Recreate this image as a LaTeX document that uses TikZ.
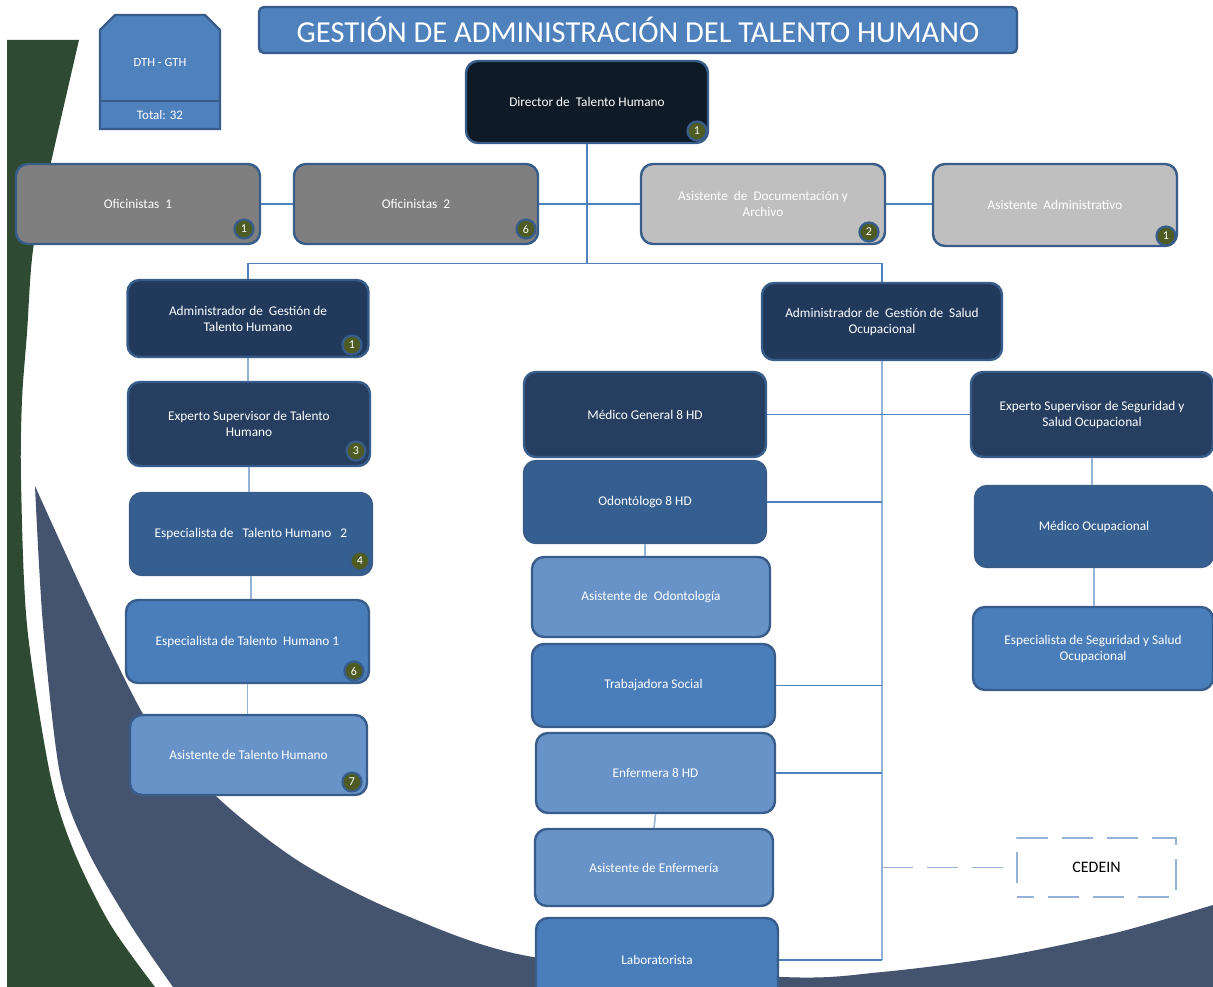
\documentclass[tikz,border=0pt]{standalone}
\usepackage{fontspec}
\setmainfont{Carlito}
\usetikzlibrary{calc}

\definecolor{boxline}{HTML}{385D8A}
\definecolor{titlefill}{HTML}{4F81BD}
\definecolor{dirfill}{HTML}{0F1A27}
\definecolor{grayfill}{HTML}{7F7F7F}
\definecolor{palegrayfill}{HTML}{BFBFBF}
\definecolor{navyA}{HTML}{213A5C}
\definecolor{navyB}{HTML}{263F60}
\definecolor{midBlue}{HTML}{365F91}
\definecolor{stdBlue}{HTML}{4A7EBB}
\definecolor{softBlue}{HTML}{6793C8}
\definecolor{badgefill}{HTML}{4E5B23}
\definecolor{linkblue}{HTML}{4F81BD}
\definecolor{linksoft}{HTML}{95B3D7}
\definecolor{leafgreen}{HTML}{2E4A32}
\definecolor{swoosh}{HTML}{44546F}

\begin{document}
\begin{tikzpicture}[x=1pt,y=-1pt,
  box/.style={draw=boxline, line width=2.4pt, rounded corners=12pt, text=white,
    font=\fontsize{13.3}{16}\selectfont, align=center, inner sep=0pt},
  badge/.style={circle, draw=boxline, line width=2.2pt, fill=badgefill, text=white,
    minimum size=19pt, inner sep=0pt, font=\fontsize{12}{12}\selectfont},
  link/.style={draw=linkblue, line width=1.1pt},
  softlink/.style={draw=linksoft, line width=1.6pt},
  dashlink/.style={draw=linksoft, line width=1.4pt, dash pattern=on 31pt off 14pt},
]
\useasboundingbox (0,0) rectangle (1213,987);
\clip (0,0) rectangle (1213,987);
\fill[white] (0,0) rectangle (1213,987);

% background: green band on the left
\fill[leafgreen] (7,40) -- (79,40)
  -- plot[smooth] coordinates {(79,40) (50,167) (33,250) (27,333) (22,400) (21,480) (27,625) (50,774) (73,849) (110,924) (155,987)}
  -- (7,987) -- cycle;

% background: slate swoosh at the bottom
\fill[swoosh] (1213,987) -- (173,987)
  -- plot[smooth] coordinates {(173,987) (130,924) (87,849) (60,774) (43,625) (35,486)}
  -- plot[smooth] coordinates {(35,486) (143,714) (217,797) (300,862) (400,913) (533,957) (783,977) (882,972) (999,957) (1115,933) (1213,905)}
  -- cycle;

% title banner
\node[box, fill=titlefill, rounded corners=5pt, minimum width=758pt, minimum height=46pt,
      font=\fontsize{30.5}{34}\selectfont] (title) at (638,30)
  {GESTIÓN DE ADMINISTRACIÓN DEL TALENTO HUMANO};

% summary tag
\filldraw[fill=titlefill, draw=boxline, line width=2.4pt]
  (100,129) -- (100,30) -- (115,15) -- (205,15) -- (220,30) -- (220,129) -- cycle;
\draw[boxline, line width=2.4pt] (100,101) -- (220,101);
\node[text=white, font=\fontsize{12.5}{15}\selectfont] (dthname) at (160,62) {DTH - GTH};
\node[text=white, font=\fontsize{13}{15}\selectfont] (dthtotal) at (160,115) {Total: 32};

% top level
\node[box, fill=dirfill, minimum width=242pt, minimum height=82pt] (dir) at (587,102) {Director de\ \ Talento Humano};

\node[box, fill=grayfill, minimum width=244pt, minimum height=80pt] (of1) at (138,204) {Oficinistas\ \ 1};
\node[box, fill=grayfill, minimum width=244pt, minimum height=80pt] (of2) at (416,204) {Oficinistas\ \ 2};
\node[box, fill=palegrayfill, minimum width=244pt, minimum height=80pt] (adoc) at (763,204) {Asistente\ \ de\ \ Documentación y\\Archivo};
\node[box, fill=palegrayfill, minimum width=244pt, minimum height=82pt] (aadm) at (1055,205) {Asistente\ \ Administrativo};

% talent management branch
\node[box, fill=navyA, minimum width=241pt, minimum height=77pt] (agth) at (248,318.5) {Administrador de\ \ Gestión de\\Talento Humano};
\node[box, fill=navyB, minimum width=242pt, minimum height=84pt] (estm) at (249,424) {Experto Supervisor de Talento\\Humano};
\node[box, fill=midBlue, minimum width=242pt, minimum height=82pt] (esp2) at (251,534) {Especialista de\ \ \ Talento Humano\ \ \ 2};
\node[box, fill=stdBlue, minimum width=243pt, minimum height=83pt] (esp1) at (247.5,641.5) {Especialista de Talento\ \ Humano 1};
\node[box, fill=softBlue, minimum width=237pt, minimum height=80pt] (ath) at (248.5,755) {Asistente de Talento Humano};

% occupational health branch
\node[box, fill=navyA, minimum width=240pt, minimum height=77pt] (agso) at (882,321.5) {Administrador de\ \ Gestión de\ \ Salud\\Ocupacional};
\node[box, fill=navyB, minimum width=242pt, minimum height=85pt] (mg) at (645,414.5) {Médico General 8 HD};
\node[box, fill=midBlue, minimum width=242pt, minimum height=82pt] (odo) at (645,502) {Odontólogo 8 HD};
\node[box, fill=softBlue, minimum width=238pt, minimum height=80pt] (aodo) at (651,597) {Asistente de\ \ Odontología};
\node[box, fill=stdBlue, minimum width=243pt, minimum height=83pt] (ts) at (653.5,685.5) {Trabajadora Social};
\node[box, fill=softBlue, minimum width=239pt, minimum height=80pt] (enf) at (655.5,773) {Enfermera 8 HD};
\node[box, fill=softBlue, minimum width=238pt, minimum height=77pt] (aenf) at (654,867.5) {Asistente de Enfermería};
\node[box, fill=stdBlue, minimum width=242pt, minimum height=84pt] (lab) at (657,960) {Laboratorista};

\node[box, fill=navyB, minimum width=242pt, minimum height=85pt] (esso) at (1092,414.5) {Experto Supervisor de Seguridad y\\Salud Ocupacional};
\node[box, fill=midBlue, minimum width=238pt, minimum height=81pt] (mocu) at (1094,526.5) {Médico Ocupacional};
\node[box, fill=stdBlue, minimum width=240pt, minimum height=83pt] (esseg) at (1093,648.5) {Especialista de Seguridad y Salud\\Ocupacional};

\node[draw=linksoft, line width=1.4pt, dash pattern=on 31pt off 14pt, dash phase=14pt,
      minimum width=159pt, minimum height=59pt, text=black,
      font=\fontsize{16}{18}\selectfont] (cedein) at (1096.5,867.5) {CEDEIN};

% helper points on the connector runs
\path (dir.south) ++(0,119) coordinate (hub);
\path (lab.east -| agso.south) coordinate (spineend);
\path (cedein.west -| agso.south) coordinate (cedtap);

% connectors: top level
\draw[link] (dir.south) -- (hub);
\draw[link] (agth.north) |- (hub) -| (agso.north);
\draw[link] (of1.east) -- (of2.west);
\draw[link] (of2.east) -- (adoc.west);
\draw[link] (adoc.east) -- (adoc.east -| aadm.west);

% connectors: talent management chain
\draw[softlink] (agth.south) -- (agth.south |- estm.north);
\draw[softlink] (estm.south) -- (estm.south |- esp2.north);
\draw[softlink] (esp2.south) -- (esp2.south |- esp1.north);
\draw[softlink] (esp1.south) -- (esp1.south |- ath.north);

% connectors: occupational health
\draw[softlink] (agso.south) -- (spineend);
\draw[link] (spineend) -- (lab.east);
\draw[link] (mg.east) -- (esso.west);
\draw[link] (odo.east) -- (odo.east -| agso.south);
\draw[link] (ts.east) -- (ts.east -| agso.south);
\draw[link] (enf.east) -- (enf.east -| agso.south);
\draw[dashlink, shorten >=12pt] (cedtap) -- (cedein.west);
\draw[softlink] (odo.south) -- (odo.south |- aodo.north);
\draw[softlink] (enf.south) -- (aenf.north);
\draw[softlink] (esso.south) -- (esso.south |- mocu.north);
\draw[softlink] (mocu.south) -- (mocu.south |- esseg.north);

% headcount badges
\node[badge] (bdir)  at (697,131) {1};
\node[badge] (bof1)  at (244,229) {1};
\node[badge] (bof2)  at (526,229) {6};
\node[badge] (badoc) at (869,232) {2};
\node[badge] (baadm) at (1166,236) {1};
\node[badge] (bagth) at (352,345) {1};
\node[badge] (bestm) at (356,451) {3};
\node[badge] (besp2) at (360,561) {4};
\node[badge] (besp1) at (354,671) {6};
\node[badge] (bath)  at (352,782) {7};
\end{tikzpicture}
\end{document}
